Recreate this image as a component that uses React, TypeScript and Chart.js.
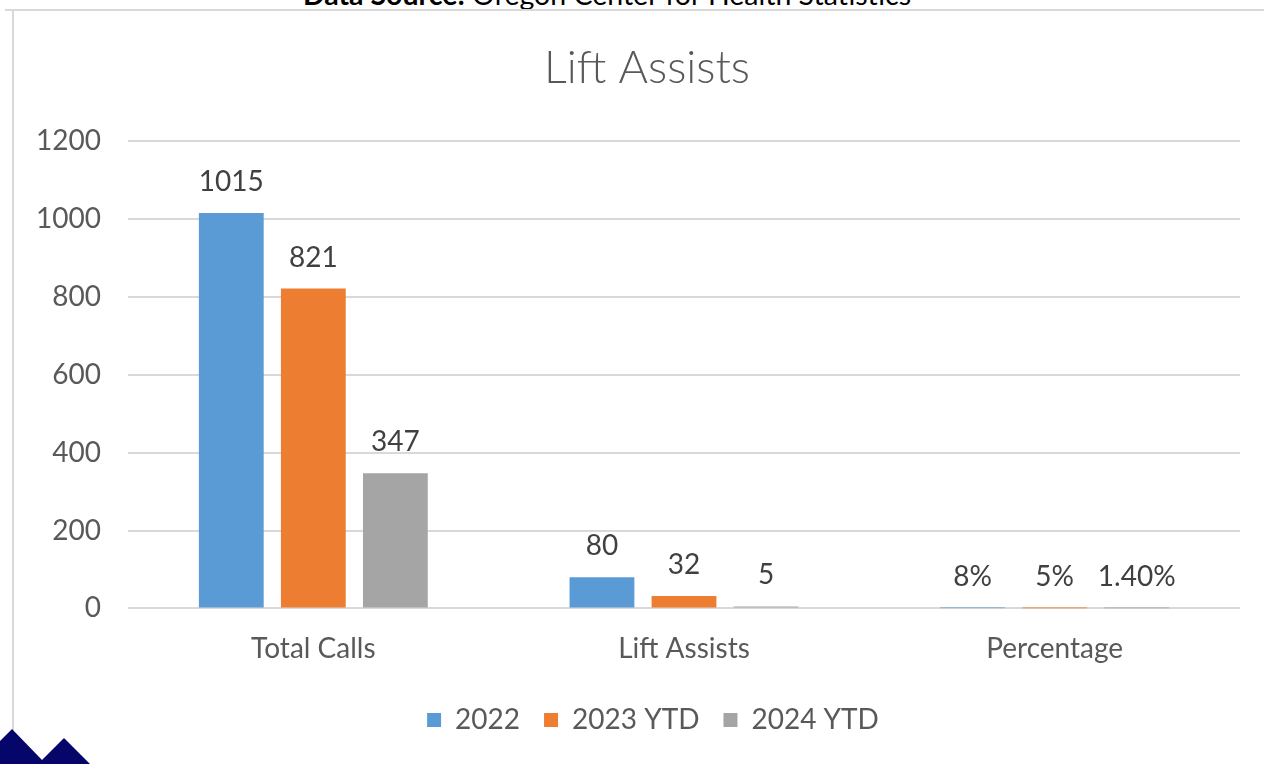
import React, { useEffect, useRef } from "react";
import { Chart, registerables } from "chart.js";

Chart.register(...registerables);

const categories = ["Total Calls", "Lift Assists", "Percentage"];
const seriesNames = ["2022", "2023 YTD", "2024 YTD"];
const values2022 = [1015, 80, 0.08];
const values2023 = [821, 32, 0.05];
const values2024 = [347, 5, 0.014];
const labels2022 = ["1015", "80", "8%"];
const labels2023 = ["821", "32", "5%"];
const labels2024 = ["347", "5", "1.40%"];
const yTicks = [0, 200, 400, 600, 800, 1000, 1200];

const colors = ["#5B9BD5", "#ED7D31", "#A5A5A5"];
const FONT = "Lato, 'Open Sans', 'Noto Sans', sans-serif";
const TEXT = "#595959";

const valueLabelPlugin = {
  id: "valueLabels",
  afterDatasetsDraw(chart: any) {
    const ctx = chart.ctx;
    const all = [labels2022, labels2023, labels2024];
    ctx.save();
    ctx.font = `28px ${FONT}`;
    ctx.fillStyle = "#404040";
    ctx.textAlign = "center";
    ctx.textBaseline = "middle";
    chart.data.datasets.forEach((_: any, di: number) => {
      const meta = chart.getDatasetMeta(di);
      meta.data.forEach((el: any, i: number) => {
        ctx.fillText(all[di][i], el.x, el.y - 31);
      });
    });
    ctx.restore();
  },
};

const shiftBoxesPlugin = {
  id: "shiftBoxes",
  afterLayout(chart: any) {
    const t = chart.titleBlock;
    if (t) {
      t.left += 12;
      t.right += 12;
    }
    const l = chart.legend;
    if (l) {
      l.left += 18;
      l.right += 18;
      l.top -= 8;
      l.bottom -= 8;
    }
  },
};

function LiftChart() {
  const ref = useRef<HTMLCanvasElement | null>(null);
  useEffect(() => {
    if (!ref.current) return;
    const chart = new Chart(ref.current, {
      type: "bar",
      data: {
        labels: categories,
        datasets: [values2022, values2023, values2024].map((d, i) => ({
          label: seriesNames[i],
          data: d,
          backgroundColor: colors[i],
          borderWidth: 0,
          categoryPercentage: 0.664,
          barPercentage: 0.79,
        })),
      },
      options: {
        animation: false,
        responsive: false,
        maintainAspectRatio: false,
        layout: { padding: { left: 30, right: 24, top: 20, bottom: 12 } },
        plugins: {
          title: {
            display: true,
            text: "Lift Assists",
            color: TEXT,
            font: { family: FONT, size: 45, weight: "300" as any, lineHeight: 1.2 },
            padding: { top: 21, bottom: 46 },
          },
          legend: {
            position: "bottom",
            labels: {
              color: TEXT,
              font: { family: FONT, size: 28 },
              boxWidth: 14,
              boxHeight: 14,
              padding: 24,
            },
          },
          tooltip: { enabled: false },
        },
        scales: {
          x: {
            grid: { display: false, drawTicks: false },
            border: { display: false },
            ticks: { color: TEXT, font: { family: FONT, size: 28 }, padding: 24 },
          },
          y: {
            min: 0,
            max: 1200,
            afterFit(scale: any) {
              scale.width = 98;
            },
            afterBuildTicks(scale: any) {
              scale.ticks = yTicks.map((v) => ({ value: v }));
            },
            grid: { color: "#D9D9D9", lineWidth: 2, drawTicks: false },
            border: { display: false },
            ticks: {
              color: TEXT,
              font: { family: FONT, size: 28 },
              padding: 27,
              callback: (v: any) => String(v),
            },
          },
        },
      },
      plugins: [valueLabelPlugin, shiftBoxesPlugin],
    });
    return () => chart.destroy();
  }, []);
  return <canvas ref={ref} width={1264} height={764} style={{ position: "absolute", left: 0, top: 0 }} />;
}

export default function App() {
  return (
    <div
      style={{
        position: "absolute",
        left: 0,
        top: 0,
        width: 1264,
        height: 764,
        overflow: "hidden",
        background: "#fff",
      }}
    >
      <div
        style={{
          position: "absolute",
          left: 0,
          width: 1214,
          top: -22,
          textAlign: "center",
          fontFamily: FONT,
          fontSize: 28.5,
          lineHeight: "33px",
          color: "#000",
          whiteSpace: "nowrap",
        }}
      >
        <b>Data Source:</b> Oregon Center for Health Statistics
      </div>
      <div style={{ position: "absolute", left: 5, top: 9, width: 1259, height: 2, background: "#D9D9D9" }} />
      <div style={{ position: "absolute", left: 12, top: 9, width: 2, height: 722, background: "#D9D9D9" }} />
      <LiftChart />
      <svg width={100} height={40} style={{ position: "absolute", left: 0, top: 724 }}>
        <polygon points="0,17 12,5 42,36 64,14 90,40 0,40" fill="#05056A" />
      </svg>
    </div>
  );
}
